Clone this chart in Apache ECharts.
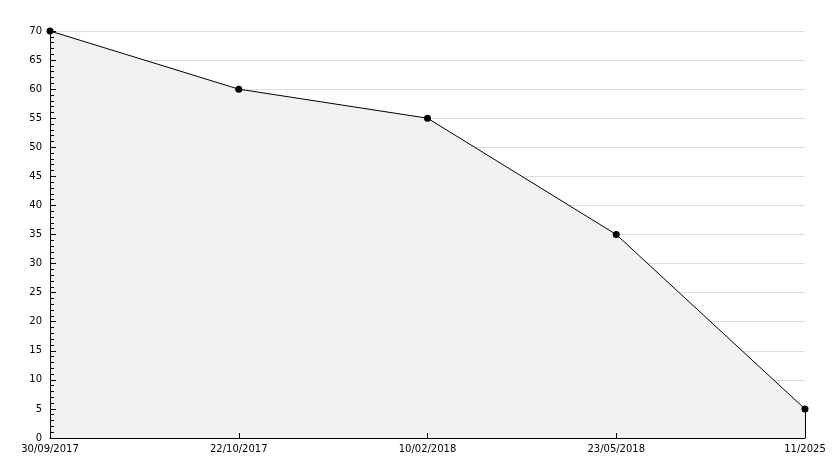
<!DOCTYPE html>
<html>
<head>
<meta charset="utf-8">
<script src="https://cdn.jsdelivr.net/npm/echarts@6/dist/echarts.min.js"></script>
<style>html,body{margin:0;padding:0;background:#fff;}#c{width:834px;height:468px;}</style>
</head>
<body>
<div id="c"></div>
<script>
var categories = ['30/09/2017', '22/10/2017', '10/02/2018', '23/05/2018', '11/2025'];
var values = [70, 60, 55, 35, 5];
var yMin = 0, yMax = 70, yStep = 5;

var chart = echarts.init(document.getElementById('c'), null, {renderer: 'canvas'});
var last = categories[categories.length - 1];
chart.setOption({
  animation: false,
  backgroundColor: '#ffffff',
  grid: {left: 50, right: 29, top: 31, bottom: 30, containLabel: false},
  xAxis: {
    type: 'category',
    data: categories,
    boundaryGap: false,
    z: 5,
    axisLine: {lineStyle: {color: '#000', width: 1}},
    axisTick: {inside: true, length: 5, lineStyle: {color: '#000'}},
    axisLabel: {color: '#000', fontSize: 10, fontFamily: 'DejaVu Sans', margin: 6, interval: 0},
    splitLine: {show: false}
  },
  yAxis: [{
    type: 'value',
    min: yMin, max: yMax, interval: yStep,
    z: 0,
    axisLine: {show: false},
    axisTick: {show: false},
    axisLabel: {show: false},
    splitLine: {show: true, lineStyle: {color: '#dddddd', width: 1}}
  }, {
    type: 'value',
    position: 'left',
    min: yMin, max: yMax, interval: yStep,
    z: 5,
    axisLine: {show: true, lineStyle: {color: '#000', width: 1}},
    axisTick: {show: true, inside: true, length: 6, lineStyle: {color: '#000', width: 1}},
    minorTick: {show: true, splitNumber: 5, length: 4, lineStyle: {color: '#000', width: 1}},
    axisLabel: {color: '#000', fontSize: 10, fontFamily: 'DejaVu Sans', margin: 8},
    splitLine: {show: false}
  }],
  series: [{
    type: 'line',
    data: values,
    yAxisIndex: 0,
    symbol: 'circle',
    symbolSize: 7,
    itemStyle: {color: '#000'},
    lineStyle: {color: '#000', width: 1},
    areaStyle: {color: '#f1f1f1', opacity: 1},
    markLine: {
      silent: true,
      symbol: 'none',
      label: {show: false},
      lineStyle: {color: '#000', width: 1, type: 'solid'},
      data: [[{coord: [last, yMin]}, {coord: [last, values[values.length - 1]]}]]
    }
  }]
});
</script>
</body>
</html>
